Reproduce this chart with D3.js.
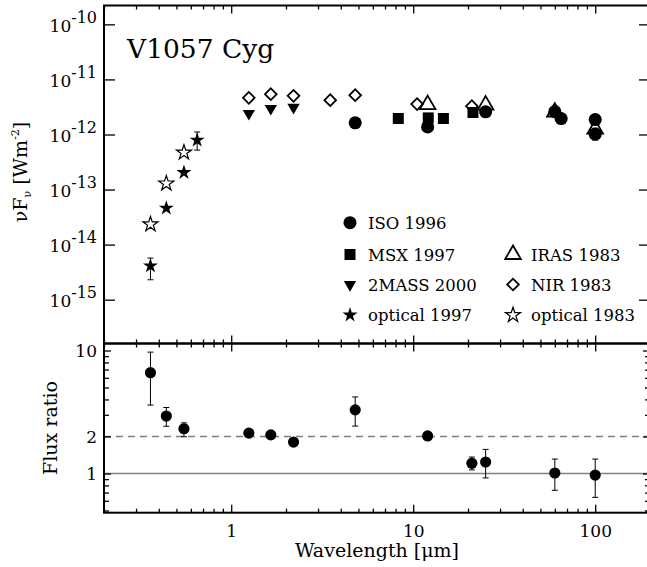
<!DOCTYPE html>
<meta charset="utf-8">
<style>
body{ margin:0; background:#fff; }
.frame{ fill:none; stroke:#000; stroke-width:2px; }
.tick line{ stroke:#000; stroke-width:1.3px; }
.err{ stroke:#000; stroke-width:1px; }
</style>
<body>
<div id="SED"></div>
<script src="https://d3js.org/d3.v7.min.js"></script>
<script>
// wavelength in micron, nuFnu in W m^-2
var isoWave = [4.8, 12, 25, 60, 65, 100, 100];
var isoFlux = [1.63e-12, 1.37e-12, 2.58e-12, 2.6e-12, 1.95e-12, 1.87e-12, 1.02e-12];
var isoLo   = [null, null, null, null, null, null, 0.79e-12];
var isoHi   = [null, null, null, null, null, null, 1.3e-12];

var msxWave = [8.28, 12.1, 14.65, 21.3];
var msxFlux = [1.95e-12, 2.0e-12, 1.95e-12, 2.51e-12];

var irasWave = [12, 25, 60, 100];
var irasFlux = [3.48e-12, 3.41e-12, 2.55e-12, 1.25e-12];

var tmassWave = [1.25, 1.65, 2.2];
var tmassFlux = [2.41e-12, 2.97e-12, 3.10e-12];

var nirWave = [1.25, 1.65, 2.2, 3.5, 4.8, 10.5, 21];
var nirFlux = [4.63e-12, 5.40e-12, 5.03e-12, 4.2e-12, 5.18e-12, 3.56e-12, 3.27e-12];

var opt97Wave = [0.36, 0.44, 0.55, 0.65];
var opt97Flux = [4.1e-15, 4.6e-14, 2.04e-13, 7.9e-13];
var opt97Lo   = [2.3e-15, null, null, 5.2e-13];
var opt97Hi   = [5.7e-15, null, null, 1.11e-12];

var opt83Wave = [0.36, 0.44, 0.55];
var opt83Flux = [2.34e-14, 1.29e-13, 4.71e-13];

// flux ratio panel
var ratioWave = [0.36, 0.44, 0.55, 1.25, 1.65, 2.2, 4.8, 12, 21, 25, 60, 100];
var ratioVal  = [6.6, 2.93, 2.31, 2.13, 2.06, 1.80, 3.29, 2.02, 1.21, 1.24, 1.01, 0.97];
var ratioLo   = [3.6, 2.42, 1.99, null, null, null, 2.43, null, 1.07, 0.92, 0.73, 0.64];
var ratioHi   = [9.7, 3.44, 2.58, null, null, null, 4.19, null, 1.36, 1.57, 1.31, 1.31];

var legendNames = ["ISO 1996", "MSX 1997", "IRAS 1983", "2MASS 2000", "NIR 1983", "optical 1997", "optical 1983"];
var xMajor = [1, 10, 100];
var fluxMajor = [1e-15, 1e-14, 1e-13, 1e-12, 1e-11, 1e-10];
var ratioMajor = [1, 2, 10];

var svg = d3.select("div#SED").append("svg").attr("width", 647).attr("height", 567);

var x = d3.scaleLog().domain([0.2, 200]).range([104, 650]);
var yTop = d3.scaleLog().domain([1.6e-16, 2.2e-10]).range([343.5, 5.5]);
var yBot = d3.scaleLog().domain([0.48, 11.4]).range([512.7, 343.5]);

var xMinor = [];
[0.1, 1, 10, 100].forEach(function(d){
    for (var k = 2; k < 10; k++){
        var v = d * k;
        if (v >= 0.2 && v <= 200) xMinor.push(v);
    }
});
var ratioMinor = [0.5, 0.6, 0.7, 0.8, 0.9, 3, 4, 5, 6, 7, 8, 9];

var symCircle  = d3.symbol(d3.symbolCircle, 135)();
var symDot     = d3.symbol(d3.symbolCircle, 98)();
var symSquare  = d3.symbol(d3.symbolSquare, 121)();
var symTri     = d3.symbol(d3.symbolTriangle, 105)();
var symTriDown = d3.symbol(d3.symbolTriangle, 66)();
var symDiamond = d3.symbol(d3.symbolSquare, 68)();
var symStar    = d3.symbol(d3.symbolStar, 70)();

function drawPoints(g, xs, ys, yScale, path, open, rot, sw){
    g.append("g").selectAll("path").data(xs).enter().append("path")
        .attr("transform", function(d, i){
            return "translate(" + x(d) + "," + yScale(ys[i]) + ")" + (rot ? " rotate(" + rot + ")" : "");
        })
        .attr("d", path)
        .style("fill", open ? "none" : "#000")
        .style("stroke", "#000")
        .style("stroke-width", open ? sw : 0);
}

function drawErrors(g, xs, lo, hi, yScale){
    xs.forEach(function(d, i){
        if (lo[i] == null) return;
        var cx = x(d);
        g.append("line").attr("class", "err")
            .attr("x1", cx).attr("x2", cx)
            .attr("y1", yScale(lo[i])).attr("y2", yScale(hi[i]));
        [lo[i], hi[i]].forEach(function(v){
            g.append("line").attr("class", "err")
                .attr("x1", cx - 3).attr("x2", cx + 3)
                .attr("y1", yScale(v)).attr("y2", yScale(v));
        });
    });
}

function noLabel(){ return ""; }

function xTicks(y0, make, labels){
    var g = svg.append("g").attr("transform", "translate(0," + y0 + ")");
    g.append("g").call(make(x).tickValues(xMinor).tickSize(-4).tickFormat(noLabel));
    g.append("g").call(make(x).tickValues(xMajor).tickSize(-8).tickPadding(12)
        .tickFormat(labels ? d3.format("~g") : noLabel));
    g.selectAll(".domain").remove();
    g.selectAll("g").attr("font-size", 17);
}

// ---------- top panel
var gTop = svg.append("g");
drawErrors(gTop, opt97Wave, opt97Lo, opt97Hi, yTop);
drawErrors(gTop, isoWave, isoLo, isoHi, yTop);
drawPoints(gTop, nirWave, nirFlux, yTop, symDiamond, true, 45, 1.8);
drawPoints(gTop, tmassWave, tmassFlux, yTop, symTriDown, false, 180);
drawPoints(gTop, msxWave, msxFlux, yTop, symSquare, false);
drawPoints(gTop, isoWave, isoFlux, yTop, symCircle, false);
drawPoints(gTop, irasWave, irasFlux, yTop, symTri, true, 0, 1.8);
drawPoints(gTop, opt83Wave, opt83Flux, yTop, symStar, true, 0, 1.2);
drawPoints(gTop, opt97Wave, opt97Flux, yTop, symStar, false);

gTop.append("text").attr("x", 127).attr("y", 58).attr("font-size", 26.5).text("V1057 Cyg");

var legendX = [350, 513];
var legendPos = [[0, 0], [0, 1], [1, 1], [0, 2], [1, 2], [0, 3], [1, 3]];
var legendRowY = [222.7, 254.5, 284.5, 315];
var legendSym = [[symCircle, false, 0, 0], [symSquare, false, 0, 0], [symTri, true, 0, 1.8],
                 [symTriDown, false, 180, 0], [symDiamond, true, 45, 1.8],
                 [symStar, false, 0, 0], [symStar, true, 0, 1.2]];
legendNames.forEach(function(name, i){
    var lx = legendX[legendPos[i][0]], ly = legendRowY[legendPos[i][1]];
    var s = legendSym[i];
    gTop.append("path").attr("d", s[0])
        .attr("transform", "translate(" + lx + "," + ly + ")" + (s[2] ? " rotate(" + s[2] + ")" : ""))
        .style("fill", s[1] ? "none" : "#000").style("stroke", "#000").style("stroke-width", s[3]);
    gTop.append("text").attr("x", lx + 18).attr("y", ly + 6).attr("font-size", 16.5).text(name);
});

gTop.append("rect").attr("class", "frame").attr("x", 104).attr("y", 5.5).attr("width", 546).attr("height", 338);

var gyL = gTop.append("g").attr("transform", "translate(104,0)")
    .call(d3.axisLeft(yTop).tickValues(fluxMajor).tickSize(-11).tickPadding(7).tickFormat(noLabel));
gTop.append("g").attr("transform", "translate(650,0)")
    .call(d3.axisRight(yTop).tickValues(fluxMajor).tickSize(-11).tickFormat(noLabel));
gTop.selectAll(".domain").remove();
gyL.attr("font-size", 17);
gyL.selectAll(".tick text").attr("dy", "0.4em").each(function(d){
    var t = d3.select(this);
    t.append("tspan").text("10");
    t.append("tspan").attr("dy", -9).attr("font-size", 16).text(Math.round(Math.log10(d)));
});

xTicks(5.5, d3.axisTop, false);
xTicks(343.5, d3.axisBottom, false);

var yLab = gTop.append("text").attr("transform", "translate(27,172) rotate(-90)")
    .attr("text-anchor", "middle").attr("font-size", 19);
yLab.append("tspan").text("\u03bdF");
yLab.append("tspan").attr("font-size", 11).attr("dy", 4).text("\u03bd");
yLab.append("tspan").attr("dy", -4).text(" [Wm");
yLab.append("tspan").attr("font-size", 11).attr("dy", -8).text("-2");
yLab.append("tspan").attr("dy", 8).text("]");

// ---------- ratio panel
var gBot = svg.append("g");
gBot.append("line").attr("x1", 104).attr("x2", 650).attr("y1", yBot(1)).attr("y2", yBot(1))
    .style("stroke", "#808080").style("stroke-width", 1.5);
gBot.append("line").attr("x1", 104).attr("x2", 650).attr("y1", yBot(2)).attr("y2", yBot(2))
    .style("stroke", "#808080").style("stroke-width", 1.5).style("stroke-dasharray", "7,5");
drawErrors(gBot, ratioWave, ratioLo, ratioHi, yBot);
drawPoints(gBot, ratioWave, ratioVal, yBot, symDot, false);

gBot.append("rect").attr("class", "frame").attr("x", 104).attr("y", 343.5).attr("width", 546).attr("height", 169.2);

var gyB = gBot.append("g").attr("transform", "translate(104,0)");
gyB.append("g").call(d3.axisLeft(yBot).tickValues(ratioMinor).tickSize(-5).tickFormat(noLabel));
gyB.append("g").call(d3.axisLeft(yBot).tickValues(ratioMajor).tickSize(-7).tickPadding(7)
    .tickFormat(d3.format("~g")));
var gyR = gBot.append("g").attr("transform", "translate(650,0)");
gyR.append("g").call(d3.axisRight(yBot).tickValues(ratioMinor).tickSize(-5).tickFormat(noLabel));
gyR.append("g").call(d3.axisRight(yBot).tickValues(ratioMajor).tickSize(-7).tickFormat(noLabel));
gBot.selectAll(".domain").remove();
gyB.selectAll("g").attr("font-size", 17);
gyB.selectAll(".tick text").attr("dy", "0.36em");

xTicks(343.5, d3.axisTop, false);
xTicks(512.7, d3.axisBottom, true);

gBot.append("text").attr("transform", "translate(57,428) rotate(-90)")
    .attr("text-anchor", "middle").attr("font-size", 19).text("Flux ratio");
gBot.append("text").attr("x", 377).attr("y", 557)
    .attr("text-anchor", "middle").attr("font-size", 19).text("Wavelength [\u03bcm]");

svg.selectAll("g").attr("font-family", null);
svg.selectAll("text").style("font-family", "'DejaVu Serif', serif").style("fill", "#000");
</script>
</body>
</html>
